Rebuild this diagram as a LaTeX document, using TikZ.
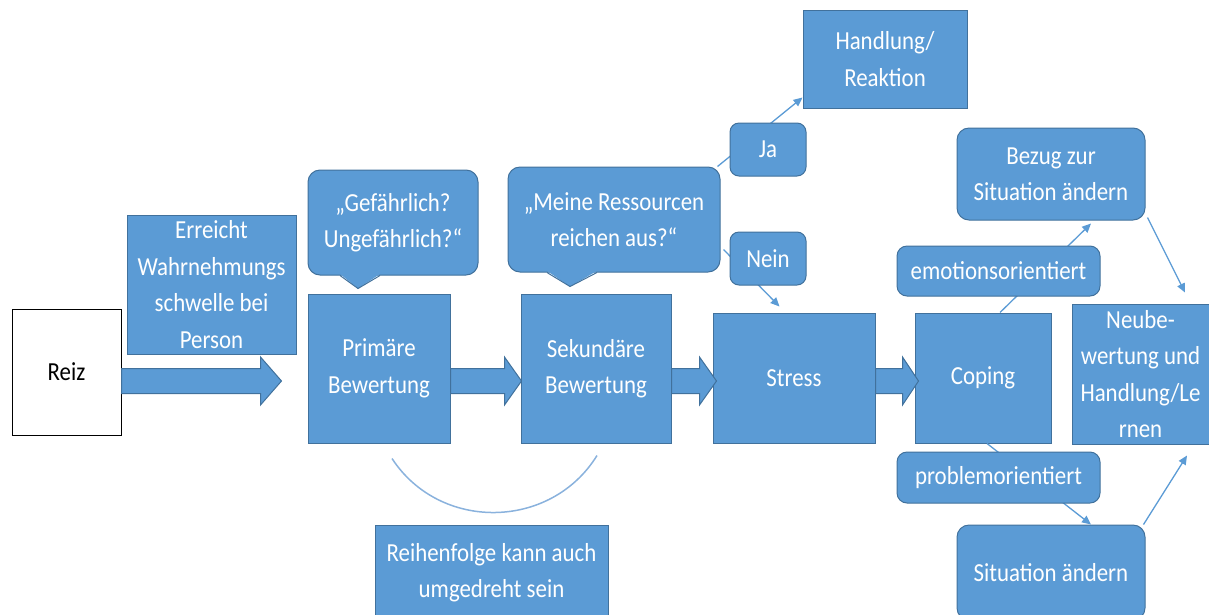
\documentclass[tikz,border=0pt]{standalone}
\usepackage{fontspec}
\setmainfont{Carlito}[FakeStretch=0.88]
\usetikzlibrary{calc,backgrounds,arrows.meta}
\definecolor{obl}{HTML}{5B9BD5}
\definecolor{obd}{HTML}{41719C}
\definecolor{arcc}{HTML}{8AB2DD}
\tikzset{
  bx/.style={draw=obd, line width=1pt, fill=obl, text=white, align=center, inner sep=0pt,
    font=\fontsize{26}{36.5}\selectfont},
  rbx/.style={bx, rounded corners=12pt},
  conn/.style={draw=obl, line width=1.3pt, -{Triangle[length=9pt,width=8pt]}},
  plainln/.style={draw=obl, line width=1.3pt},
  barrow/.style={fill=obl, draw=obd, line width=1pt},
  arcline/.style={draw=arcc, line width=1.5pt},
}
\newcommand\blockarrow[3]{%
  \filldraw[barrow] let \p1=(#1), \p2=(#2) in
    (\x1,\y1+12.5pt) -- (\x2-#3,\y1+12.5pt) -- (\x2-#3,\y1+24pt) -- (\x2,\y1)
    -- (\x2-#3,\y1-24pt) -- (\x2-#3,\y1-12.5pt) -- (\x1,\y1-12.5pt) -- cycle;}
\begin{document}
\begin{tikzpicture}[x=1pt,y=-1pt]
\useasboundingbox (0,0) rectangle (1209,614);
% main nodes
\node[bx, fill=white, draw=black, text=black, minimum width=109pt, minimum height=126pt] (reiz) at (66.5,372) {Reiz};
\node[bx, minimum width=169pt, minimum height=139pt] (erreicht) at (211.5,284.5) {Erreicht\\Wahrnehmungs\\schwelle bei\\Person};
\node[bx, minimum width=142pt, minimum height=149pt] (prim) at (379,368.5) {Primäre\\Bewertung};
\node[bx, minimum width=150pt, minimum height=149pt] (sek) at (596,368.5) {Sekundäre\\Bewertung};
\node[bx, minimum width=162pt, minimum height=130pt] (stress) at (794,378) {Stress};
\node[bx, minimum width=136pt, minimum height=130pt] (coping) at (983,378) {Coping};
\node[bx, minimum width=137pt, minimum height=140pt] (neu) at (1140.5,374) {Neube-\\wertung und\\Handlung/Le\\rnen};
\node[rbx, minimum width=170pt, minimum height=105pt] (gef) at (393,222.5) {„Gefährlich?\\Ungefährlich?“};
\node[rbx, minimum width=212pt, minimum height=105pt] (ress) at (614,219.5) {„Meine Ressourcen\\reichen aus?“};
\node[bx, minimum width=164pt, minimum height=98pt] (hand) at (885,59) {Handlung/\\Reaktion};
\node[bx, minimum width=233pt, minimum height=95pt] (reihen) at (491.5,572.5) {Reihenfolge kann auch\\umgedreht sein};
\node[rbx, minimum width=188pt, minimum height=92pt] (bezug) at (1051,174) {Bezug zur\\Situation ändern};
\node[rbx, minimum width=188pt, minimum height=95pt] (sit) at (1051,572.5) {Situation ändern};
% callout tails
\fill[obl] ($(gef.south)+(-53,-1.5)$) -- ($(gef.south)+(-35,13)$) -- ($(gef.south)+(-13,-1.5)$) -- cycle;
\draw[obd, line width=1pt] ($(gef.south)+(-53,0)$) -- ($(gef.south)+(-35,13)$) -- ($(gef.south)+(-13,0)$);
\fill[obl] ($(ress.south)+(-67,-1.5)$) -- ($(ress.south)+(-44,14)$) -- ($(ress.south)+(-17,-1.5)$) -- cycle;
\draw[obd, line width=1pt] ($(ress.south)+(-67,0)$) -- ($(ress.south)+(-44,14)$) -- ($(ress.south)+(-17,0)$);
% block arrows
\coordinate (ay) at (0,381);
\blockarrow{reiz.east |- ay}{$(prim.west |- ay)+(-26,0)$}{21pt}
\blockarrow{prim.east |- ay}{$(sek.west |- ay)+(1,0)$}{17pt}
\blockarrow{sek.east |- ay}{$(stress.west |- ay)+(4,0)$}{17pt}
\blockarrow{stress.east |- ay}{$(coping.west |- ay)+(4,0)$}{16pt}
% thin connectors (behind labels)
\draw[conn] ($(ress.north east)+(-3,0)$) -- ($(hand.south west)+(0,-11)$);
\draw[conn] ($(ress.north east)+(3,83)$) -- ($(stress.north west)+(67,-6)$);
\draw[conn] ($(coping.north)+(17,0)$) -- ($(bezug.south)+(40,3)$);
\draw[conn] ($(bezug.south east)+(2,-3)$) -- ($(neu.north)+(44.5,-11)$);
\draw[conn] ($(coping.south)+(4,0)$) -- ($(sit.north)+(40,0)$);
\draw[conn] ($(sit.north east)+(-2,0)$) -- ($(neu.south)+(46.5,11)$);
% labels on connectors
\node[rbx, rounded corners=9pt, minimum width=76pt, minimum height=53pt] (ja) at (768,149.5) {Ja};
\node[rbx, rounded corners=9pt, minimum width=76pt, minimum height=53pt] (nein) at (768,258.5) {Nein};
\node[rbx, rounded corners=10pt, minimum width=203pt, minimum height=50pt] (emo) at (998.5,271) {emotionsorientiert};
\node[rbx, rounded corners=10pt, minimum width=203pt, minimum height=51pt] (prob) at (998.5,477.5) {problemorientiert};
% arc
\coordinate (arcS) at ($(prim.south)+(13,15)$);
\coordinate (arcE) at ($(sek.south)+(1,12)$);
\draw[arcline] (arcS) .. controls (440,532) and (551,530) .. (arcE);
\end{tikzpicture}
\end{document}
